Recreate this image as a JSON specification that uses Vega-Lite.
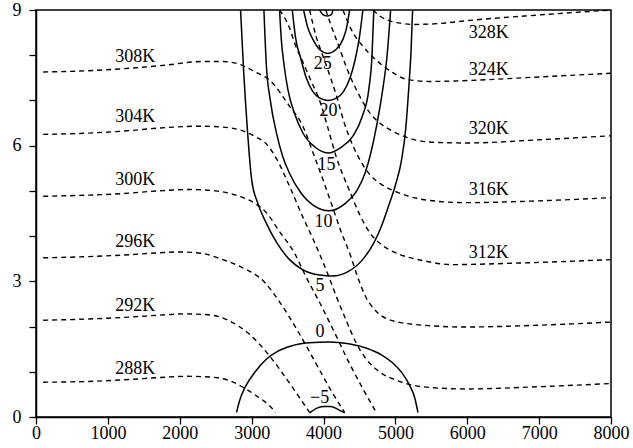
{
"$schema": "https://vega.github.io/schema/vega-lite/v6.json",
"width": 575, "height": 407,
"autosize": {"type": "none"},
"padding": {"left": 36, "top": 10, "right": 22, "bottom": 31},
"background": "white",
"config": {"view": {"stroke": "black", "strokeWidth": 1.5}, "font": "Liberation Serif"},
"datasets": {
"theta": [
{"id":"288K","x":100,"y":0.77},{"id":"288K","x":600,"y":0.78},{"id":"288K","x":1200,"y":0.82},{"id":"288K","x":1800,"y":0.88},{"id":"288K","x":2100,"y":0.9},{"id":"288K","x":2450,"y":0.88},{"id":"288K","x":2700,"y":0.8},{"id":"288K","x":2900,"y":0.64},{"id":"288K","x":3100,"y":0.43},{"id":"288K","x":3250,"y":0.25},{"id":"288K","x":3333,"y":0.1},
{"id":"292K","x":100,"y":2.14},{"id":"292K","x":600,"y":2.16},{"id":"292K","x":1200,"y":2.2},{"id":"292K","x":1800,"y":2.26},{"id":"292K","x":2050,"y":2.28},{"id":"292K","x":2400,"y":2.26},{"id":"292K","x":2700,"y":2.12},{"id":"292K","x":2990,"y":1.8},{"id":"292K","x":3250,"y":1.35},{"id":"292K","x":3505,"y":0.8},{"id":"292K","x":3700,"y":0.35},{"id":"292K","x":3807,"y":0.1},
{"id":"296K","x":100,"y":3.52},{"id":"296K","x":600,"y":3.54},{"id":"296K","x":1200,"y":3.58},{"id":"296K","x":1700,"y":3.63},{"id":"296K","x":2000,"y":3.65},{"id":"296K","x":2300,"y":3.62},{"id":"296K","x":2600,"y":3.48},{"id":"296K","x":2850,"y":3.32},{"id":"296K","x":3180,"y":2.98},{"id":"296K","x":3400,"y":2.52},{"id":"296K","x":3650,"y":1.88},{"id":"296K","x":3900,"y":1.17},{"id":"296K","x":4100,"y":0.6},{"id":"296K","x":4294,"y":0.1},
{"id":"300K","x":100,"y":4.88},{"id":"300K","x":600,"y":4.9},{"id":"300K","x":1200,"y":4.94},{"id":"300K","x":1700,"y":5.0},{"id":"300K","x":2140,"y":5.03},{"id":"300K","x":2500,"y":5.0},{"id":"300K","x":2832,"y":4.88},{"id":"300K","x":3050,"y":4.72},{"id":"300K","x":3204,"y":4.52},{"id":"300K","x":3389,"y":4.1},{"id":"300K","x":3598,"y":3.62},{"id":"300K","x":3750,"y":3.12},{"id":"300K","x":3950,"y":2.52},{"id":"300K","x":4150,"y":1.88},{"id":"300K","x":4350,"y":1.22},{"id":"300K","x":4550,"y":0.62},{"id":"300K","x":4735,"y":0.1},
{"id":"304K","x":100,"y":6.25},{"id":"304K","x":600,"y":6.27},{"id":"304K","x":1200,"y":6.32},{"id":"304K","x":1800,"y":6.4},{"id":"304K","x":2280,"y":6.43},{"id":"304K","x":2600,"y":6.41},{"id":"304K","x":2832,"y":6.35},{"id":"304K","x":3050,"y":6.2},{"id":"304K","x":3204,"y":6.04},{"id":"304K","x":3343,"y":5.72},{"id":"304K","x":3528,"y":5.1},{"id":"304K","x":3713,"y":4.42},{"id":"304K","x":3850,"y":3.95},{"id":"304K","x":3960,"y":3.55},{"id":"304K","x":4070,"y":3.12},{"id":"304K","x":4180,"y":2.66},{"id":"304K","x":4320,"y":2.12},{"id":"304K","x":4460,"y":1.62},{"id":"304K","x":4600,"y":1.27},{"id":"304K","x":4777,"y":1.0},{"id":"304K","x":5000,"y":0.82},{"id":"304K","x":5147,"y":0.74},{"id":"304K","x":5500,"y":0.65},{"id":"304K","x":5982,"y":0.62},{"id":"304K","x":7000,"y":0.67},{"id":"304K","x":8000,"y":0.74},
{"id":"308K","x":100,"y":7.63},{"id":"308K","x":600,"y":7.65},{"id":"308K","x":1200,"y":7.7},{"id":"308K","x":1800,"y":7.78},{"id":"308K","x":2300,"y":7.86},{"id":"308K","x":2600,"y":7.86},{"id":"308K","x":2832,"y":7.8},{"id":"308K","x":3050,"y":7.63},{"id":"308K","x":3250,"y":7.45},{"id":"308K","x":3528,"y":6.87},{"id":"308K","x":3713,"y":6.43},{"id":"308K","x":3853,"y":5.85},{"id":"308K","x":3992,"y":5.25},{"id":"308K","x":4131,"y":4.62},{"id":"308K","x":4240,"y":4.12},{"id":"308K","x":4380,"y":3.55},{"id":"308K","x":4470,"y":3.12},{"id":"308K","x":4580,"y":2.68},{"id":"308K","x":4720,"y":2.36},{"id":"308K","x":4916,"y":2.15},{"id":"308K","x":5379,"y":2.03},{"id":"308K","x":5978,"y":1.99},{"id":"308K","x":7000,"y":2.03},{"id":"308K","x":8000,"y":2.1},
{"id":"312K","x":3389,"y":9.0},{"id":"312K","x":3528,"y":8.6},{"id":"312K","x":3598,"y":8.27},{"id":"312K","x":3713,"y":7.85},{"id":"312K","x":3830,"y":7.42},{"id":"312K","x":3946,"y":7.0},{"id":"312K","x":4060,"y":6.4},{"id":"312K","x":4178,"y":5.75},{"id":"312K","x":4363,"y":5.0},{"id":"312K","x":4502,"y":4.48},{"id":"312K","x":4642,"y":4.08},{"id":"312K","x":4800,"y":3.82},{"id":"312K","x":5055,"y":3.6},{"id":"312K","x":5379,"y":3.46},{"id":"312K","x":5796,"y":3.37},{"id":"312K","x":6630,"y":3.4},{"id":"312K","x":8000,"y":3.48},
{"id":"316K","x":3807,"y":9.0},{"id":"316K","x":3900,"y":8.4},{"id":"316K","x":4000,"y":7.95},{"id":"316K","x":4109,"y":7.45},{"id":"316K","x":4200,"y":7.0},{"id":"316K","x":4280,"y":6.55},{"id":"316K","x":4409,"y":6.0},{"id":"316K","x":4502,"y":5.7},{"id":"316K","x":4650,"y":5.35},{"id":"316K","x":4800,"y":5.15},{"id":"316K","x":5013,"y":4.98},{"id":"316K","x":5379,"y":4.81},{"id":"316K","x":5978,"y":4.74},{"id":"316K","x":7000,"y":4.78},{"id":"316K","x":8000,"y":4.85},
{"id":"320K","x":4033,"y":9.0},{"id":"320K","x":4100,"y":8.68},{"id":"320K","x":4178,"y":8.35},{"id":"320K","x":4363,"y":7.56},{"id":"320K","x":4479,"y":7.17},{"id":"320K","x":4642,"y":6.73},{"id":"320K","x":4800,"y":6.48},{"id":"320K","x":4950,"y":6.33},{"id":"320K","x":5101,"y":6.22},{"id":"320K","x":5300,"y":6.12},{"id":"320K","x":5600,"y":6.07},{"id":"320K","x":6000,"y":6.06},{"id":"320K","x":7000,"y":6.13},{"id":"320K","x":8000,"y":6.22},
{"id":"324K","x":4270,"y":9.0},{"id":"324K","x":4409,"y":8.5},{"id":"324K","x":4520,"y":8.25},{"id":"324K","x":4642,"y":8.03},{"id":"324K","x":4800,"y":7.8},{"id":"324K","x":4950,"y":7.63},{"id":"324K","x":5152,"y":7.47},{"id":"324K","x":5477,"y":7.42},{"id":"324K","x":6000,"y":7.44},{"id":"324K","x":7000,"y":7.52},{"id":"324K","x":8000,"y":7.6},
{"id":"328K","x":4688,"y":9.0},{"id":"328K","x":4800,"y":8.85},{"id":"328K","x":4944,"y":8.75},{"id":"328K","x":5105,"y":8.7},{"id":"328K","x":5244,"y":8.68},{"id":"328K","x":5600,"y":8.7},{"id":"328K","x":6034,"y":8.77},{"id":"328K","x":7000,"y":8.89},{"id":"328K","x":8000,"y":9.0}
],
"u": [
{"id":"u5","x":2846,"y":9.0},{"id":"u5","x":2888,"y":7.68},{"id":"u5","x":2944,"y":6.29},{"id":"u5","x":3000,"y":5.25},{"id":"u5","x":3083,"y":4.74},{"id":"u5","x":3194,"y":4.32},{"id":"u5","x":3347,"y":3.86},{"id":"u5","x":3528,"y":3.48},{"id":"u5","x":3709,"y":3.26},{"id":"u5","x":3946,"y":3.14},{"id":"u5","x":4127,"y":3.12},{"id":"u5","x":4335,"y":3.21},{"id":"u5","x":4544,"y":3.48},{"id":"u5","x":4697,"y":3.84},{"id":"u5","x":4809,"y":4.23},{"id":"u5","x":4906,"y":4.67},{"id":"u5","x":5003,"y":5.14},{"id":"u5","x":5087,"y":5.69},{"id":"u5","x":5143,"y":6.36},{"id":"u5","x":5185,"y":7.24},{"id":"u5","x":5219,"y":8.13},{"id":"u5","x":5240,"y":9.0},
{"id":"u10","x":3171,"y":9.0},{"id":"u10","x":3204,"y":7.8},{"id":"u10","x":3260,"y":7.0},{"id":"u10","x":3350,"y":6.25},{"id":"u10","x":3435,"y":5.75},{"id":"u10","x":3530,"y":5.38},{"id":"u10","x":3680,"y":4.97},{"id":"u10","x":3860,"y":4.68},{"id":"u10","x":4080,"y":4.56},{"id":"u10","x":4300,"y":4.72},{"id":"u10","x":4470,"y":5.02},{"id":"u10","x":4580,"y":5.4},{"id":"u10","x":4660,"y":5.85},{"id":"u10","x":4740,"y":6.45},{"id":"u10","x":4820,"y":7.2},{"id":"u10","x":4885,"y":8.0},{"id":"u10","x":4934,"y":9.0},
{"id":"u15","x":3389,"y":9.0},{"id":"u15","x":3413,"y":8.35},{"id":"u15","x":3450,"y":7.8},{"id":"u15","x":3505,"y":7.24},{"id":"u15","x":3600,"y":6.7},{"id":"u15","x":3713,"y":6.28},{"id":"u15","x":3880,"y":5.97},{"id":"u15","x":4061,"y":5.84},{"id":"u15","x":4250,"y":5.97},{"id":"u15","x":4409,"y":6.21},{"id":"u15","x":4540,"y":6.65},{"id":"u15","x":4630,"y":7.24},{"id":"u15","x":4675,"y":8.0},{"id":"u15","x":4700,"y":9.0},
{"id":"u20","x":3566,"y":9.0},{"id":"u20","x":3610,"y":8.4},{"id":"u20","x":3680,"y":7.95},{"id":"u20","x":3760,"y":7.5},{"id":"u20","x":3850,"y":7.2},{"id":"u20","x":3950,"y":7.05},{"id":"u20","x":4061,"y":7.0},{"id":"u20","x":4180,"y":7.05},{"id":"u20","x":4280,"y":7.2},{"id":"u20","x":4370,"y":7.5},{"id":"u20","x":4440,"y":7.9},{"id":"u20","x":4500,"y":8.4},{"id":"u20","x":4548,"y":9.0},
{"id":"u25","x":3723,"y":9.0},{"id":"u25","x":3780,"y":8.62},{"id":"u25","x":3853,"y":8.35},{"id":"u25","x":3950,"y":8.12},{"id":"u25","x":4061,"y":8.04},{"id":"u25","x":4170,"y":8.12},{"id":"u25","x":4270,"y":8.35},{"id":"u25","x":4320,"y":8.6},{"id":"u25","x":4363,"y":9.0},
{"id":"u30","x":3946,"y":9.0},{"id":"u30","x":3990,"y":8.9},{"id":"u30","x":4050,"y":8.87},{"id":"u30","x":4110,"y":8.9},{"id":"u30","x":4131,"y":9.0},
{"id":"u0","x":2790,"y":0.1},{"id":"u0","x":2830,"y":0.35},{"id":"u0","x":2910,"y":0.66},{"id":"u0","x":3050,"y":1.0},{"id":"u0","x":3200,"y":1.27},{"id":"u0","x":3360,"y":1.45},{"id":"u0","x":3550,"y":1.57},{"id":"u0","x":3800,"y":1.64},{"id":"u0","x":4080,"y":1.66},{"id":"u0","x":4350,"y":1.62},{"id":"u0","x":4600,"y":1.52},{"id":"u0","x":4800,"y":1.38},{"id":"u0","x":4960,"y":1.2},{"id":"u0","x":5090,"y":0.98},{"id":"u0","x":5198,"y":0.7},{"id":"u0","x":5270,"y":0.42},{"id":"u0","x":5314,"y":0.1},
{"id":"um5","x":3807,"y":0.09},{"id":"um5","x":3900,"y":0.19},{"id":"um5","x":4000,"y":0.23},{"id":"um5","x":4100,"y":0.23},{"id":"um5","x":4200,"y":0.17},{"id":"um5","x":4294,"y":0.09}
],
"thetaLabels": [
{"t":"308K","x":1382,"y":7.97},{"t":"304K","x":1382,"y":6.64},{"t":"300K","x":1382,"y":5.23},{"t":"296K","x":1382,"y":3.86},{"t":"292K","x":1382,"y":2.46},{"t":"288K","x":1382,"y":1.07},
{"t":"328K","x":6298,"y":8.5},{"t":"324K","x":6298,"y":7.68},{"t":"320K","x":6298,"y":6.36},{"t":"316K","x":6298,"y":5.03},{"t":"312K","x":6298,"y":3.63}
],
"uLabels": [
{"t":"25","x":3991,"y":7.8},{"t":"20","x":4071,"y":6.76},{"t":"15","x":4043,"y":5.58},{"t":"10","x":4001,"y":4.31},{"t":"5","x":3953,"y":2.9},{"t":"0","x":3953,"y":1.89},{"t":"−5","x":3946,"y":0.41}
]
},
"encoding": {
"x": {"field":"x","type":"quantitative","scale":{"domain":[0,8000],"nice":false,"zero":false},
 "axis":{"values":[0,1000,2000,3000,4000,5000,6000,7000,8000],"title":null,"grid":false,"domainColor":"black","domainWidth":1.5,"tickColor":"black","tickWidth":1.3,"tickSize":7,"labelFont":"Liberation Serif","labelFontSize":18,"labelColor":"black","labelPadding":0,"labelFlush":false,"labelOverlap":false,"format":"d"}},
"y": {"field":"y","type":"quantitative","scale":{"domain":[0,9],"nice":false,"zero":false},
 "axis":{"values":[0,1,2,3,4,5,6,7,8,9],"labelExpr":"datum.value % 3 === 0 ? datum.label : ''","title":null,"grid":false,"domainColor":"black","domainWidth":1.5,"tickColor":"black","tickWidth":1.3,"tickSize":7,"labelFont":"Liberation Serif","labelFontSize":18,"labelColor":"black","labelPadding":8,"labelOverlap":false,"labelFlush":false}}
},
"layer": [
{"data":{"name":"theta"},"mark":{"type":"line","color":"black","strokeWidth":1.4,"strokeDash":[5,4],"interpolate":"monotone","clip":true},"encoding":{"detail":{"field":"id"}}},
{"data":{"name":"u"},"mark":{"type":"line","color":"black","strokeWidth":1.5,"interpolate":"monotone","clip":true},"encoding":{"detail":{"field":"id"}}},
{"data":{"name":"thetaLabels"},"mark":{"type":"text","font":"Liberation Serif","fontSize":18,"color":"black","align":"center","baseline":"middle"},"encoding":{"text":{"field":"t"}}},
{"data":{"name":"uLabels"},"mark":{"type":"text","font":"Liberation Serif","fontSize":18,"color":"black","align":"center","baseline":"middle"},"encoding":{"text":{"field":"t"}}}
]
}
